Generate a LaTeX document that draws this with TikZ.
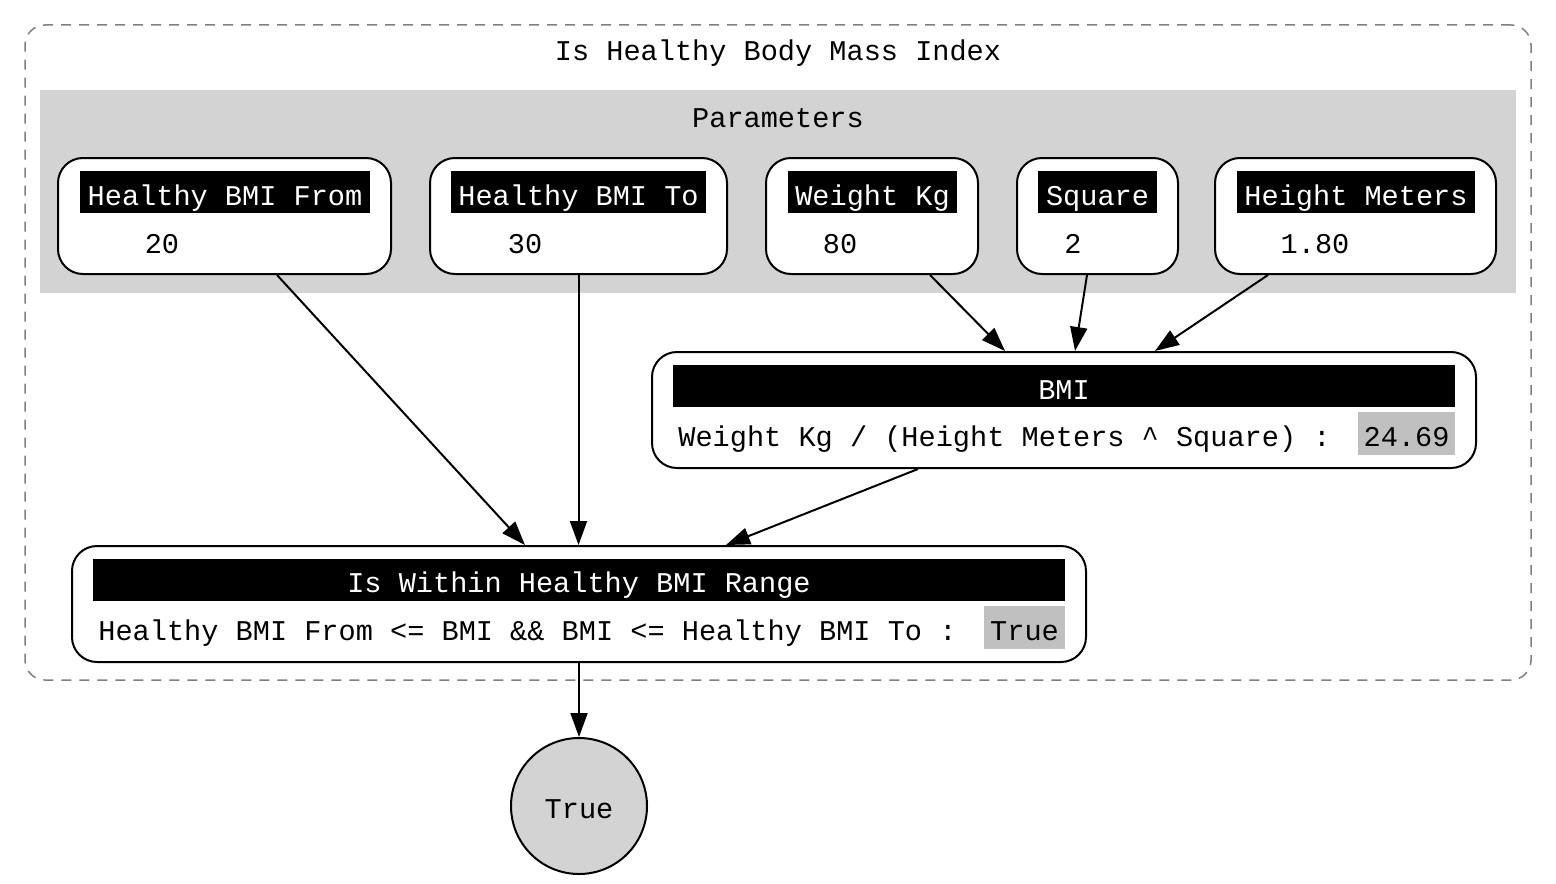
\documentclass[tikz,border=0pt]{standalone}
\usepackage{fontspec}
\setmainfont{Liberation Mono}
\usetikzlibrary{arrows.meta,calc}
\definecolor{paramgray}{HTML}{D3D3D3}
\definecolor{valgray}{HTML}{C0C0C0}
\definecolor{dashgray}{HTML}{808080}
\newcommand\mkbox[6]{\node[#6, minimum width={(#4-#2)*0.5pt}, minimum height={(#5-#3)*0.5pt}] (#1) at ({(#2+#4)/2},{(#3+#5)/2}) {};}
\begin{document}
\begin{tikzpicture}[x=0.5pt,y=-0.5pt,
  txt/.style={font=\fontsize{14.3}{17}\selectfont, inner sep=0pt, anchor=base},
  wtxt/.style={txt, text=white},
  hdr/.style={fill=black, inner sep=0pt, draw=none},
  card/.style={draw=black, line width=1pt, fill=white, rounded corners=12.5pt, inner sep=0pt},
  val/.style={fill=valgray, inner sep=0pt, draw=none},
  cluster/.style={draw=dashgray, line width=0.75pt, dash pattern=on 5pt off 4pt, rounded corners=10pt, inner sep=0pt},
  params/.style={fill=paramgray, draw=none, inner sep=0pt},
  conn/.style={-{Triangle[length=12pt,width=8.5pt]}, line width=1pt}]
\useasboundingbox (0,0) rectangle (1556,883);

% clusters
\mkbox{outer}{25}{25}{1531}{680}{cluster}
\node[txt] (outertitle) at (778,61) {Is Healthy Body Mass Index};
\mkbox{params}{40}{90}{1516}{293}{params}
\node[txt] (paramstitle) at (778,127) {Parameters};

% parameter cards
\mkbox{hbf}{58}{158}{391}{274}{card}
\mkbox{hbfh}{80}{171}{370}{213}{hdr}
\node[wtxt] (hbft) at (225,205) {Healthy BMI From};
\node[txt] (hbfv) at (162,253) {20};

\mkbox{hbt}{430}{158}{727}{274}{card}
\mkbox{hbth}{451}{171}{706}{213}{hdr}
\node[wtxt] (hbtt) at (578.5,205) {Healthy BMI To};
\node[txt] (hbtv) at (525,253) {30};

\mkbox{wk}{766}{158}{978}{274}{card}
\mkbox{wkh}{788}{171}{957}{213}{hdr}
\node[wtxt] (wkt) at (872.5,205) {Weight Kg};
\node[txt] (wkv) at (840,253) {80};

\mkbox{sq}{1017}{158}{1178}{274}{card}
\mkbox{sqh}{1038}{171}{1157}{213}{hdr}
\node[wtxt] (sqt) at (1097.5,205) {Square};
\node[txt] (sqv) at (1073,253) {2};

\mkbox{hm}{1215}{158}{1496}{274}{card}
\mkbox{hmh}{1237}{171}{1475}{213}{hdr}
\node[wtxt] (hmt) at (1356,205) {Height Meters};
\node[txt] (hmv) at (1315,253) {1.80};

% BMI
\mkbox{bmi}{652}{352}{1476}{468}{card}
\mkbox{bmih}{673}{365}{1455}{407}{hdr}
\node[wtxt] (bmit) at (1064,399) {BMI};
\node[txt, anchor=base west] (bmif) at (678,446) {Weight Kg / (Height Meters \textasciicircum{} Square) :};
\mkbox{bmivb}{1358}{412}{1455}{455}{val}
\node[txt] (bmiv) at (1406.5,446) {24.69};

% Is Within
\mkbox{iwh}{72}{546}{1086}{662}{card}
\mkbox{iwhh}{93}{559}{1065}{601}{hdr}
\node[wtxt] (iwht) at (579,592) {Is Within Healthy BMI Range};
\node[txt, anchor=base west] (iwhf) at (98,640) {Healthy BMI From <= BMI \&\& BMI <= Healthy BMI To :};
\mkbox{iwhvb}{984}{606}{1065}{649}{val}
\node[txt] (iwhv) at (1024.5,640) {True};

% result
\node[circle, draw=black, line width=1pt, fill=paramgray, minimum size=68pt, inner sep=0pt] (res) at (579,806) {};
\node[txt] (rest) at (579,818) {True};

% connectors
\draw[conn] ($(hbf.south)+(52.5,0)$) -- ($(iwh.north)+(-54,0)$);
\draw[conn] (hbt.south) -- (hbt.south |- iwh.north);
\draw[conn] ($(wk.south)+(58,0)$) -- ($(bmi.north)+(-59,0)$);
\draw[conn] ($(sq.south)+(-10.5,0)$) -- ($(bmi.north)+(11,0)$);
\draw[conn] ($(hm.south)+(-87.5,0)$) -- ($(bmi.north)+(91,0)$);
\draw[conn] ($(bmi.south)+(-146,0)$) -- ($(iwh.north)+(147,0)$);
\draw[conn] (iwh.south) -- (res.north);
\end{tikzpicture}
\end{document}
